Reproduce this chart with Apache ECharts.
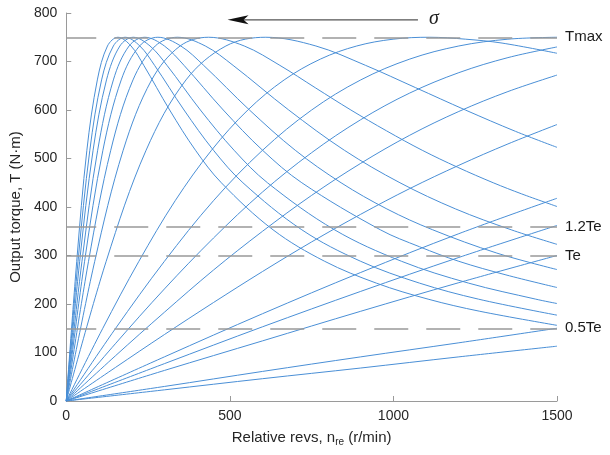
<!DOCTYPE html>
<html>
<head>
<meta charset="utf-8">
<script src="https://cdn.jsdelivr.net/npm/echarts@6/dist/echarts.min.js"></script>
<style>
  html, body { margin: 0; padding: 0; background: #fff; }
  #chart { width: 610px; height: 455px; }
</style>
</head>
<body>
<div id="chart"></div>
<script>
// Torque–speed family, one curve per leakage coefficient (σ decreasing to the right)
// Each curve: [relative revs n_re (r/min), output torque T (N·m)]
const curveS1 = [[0,0],[32,288],[63,517],[95,662],[126,732],[158,750],[198,732],[237,692],[316,600],[395,517],[474,450],[632,353],[790,288],[948,243],[1106,210],[1264,185],[1500,156]];
const curveS2 = [[0,0],[36,288],[72,517],[108,662],[144,732],[180,750],[225,732],[270,692],[360,600],[450,517],[540,450],[720,353],[900,288],[1080,243],[1260,210],[1500,177]];
const curveS3 = [[0,0],[41,288],[82,517],[123,662],[164,732],[205,750],[256,732],[308,692],[410,600],[513,517],[615,450],[820,353],[1025,288],[1230,243],[1435,210],[1500,201]];
const curveS4 = [[0,0],[48,288],[96,517],[144,662],[192,732],[240,750],[300,732],[360,692],[480,600],[600,517],[720,450],[960,353],[1080,318],[1200,288],[1344,260],[1500,234]];
const curveS5 = [[0,0],[56,288],[112,517],[168,662],[224,732],[280,750],[350,732],[420,692],[560,600],[700,517],[840,450],[980,396],[1120,353],[1316,305],[1500,271]];
const curveS6 = [[0,0],[68,288],[136,517],[204,662],[272,732],[340,750],[425,732],[510,692],[680,600],[850,517],[1020,450],[1190,396],[1360,353],[1500,323]];
const curveS7 = [[0,0],[87,288],[174,517],[261,662],[348,732],[435,750],[544,732],[653,692],[761,646],[870,600],[979,557],[1088,517],[1196,482],[1305,450],[1392,427],[1500,401]];
const curveS8 = [[0,0],[122,288],[244,517],[366,662],[488,732],[610,750],[763,732],[915,692],[1068,646],[1220,600],[1373,556],[1500,523]];
const curveS9 = [[0,0],[111,149],[222,288],[333,413],[444,517],[555,600],[666,662],[777,705],[888,732],[999,746],[1110,750],[1221,746],[1332,738],[1500,717]];
const curveS10 = [[0,0],[150,149],[300,288],[450,413],[600,517],[750,600],[900,662],[1050,705],[1200,732],[1350,746],[1500,750]];
const curveS11 = [[0,0],[150,118],[300,231],[450,336],[600,431],[750,512],[900,580],[1050,635],[1200,677],[1350,708],[1500,730]];
const curveS12 = [[0,0],[150,93],[300,183],[450,270],[600,350],[750,424],[900,490],[1050,548],[1200,597],[1350,638],[1500,672]];
const curveS13 = [[0,0],[150,69],[300,137],[450,203],[600,267],[750,328],[900,385],[1050,438],[1200,486],[1350,530],[1500,570]];
const curveS14 = [[0,0],[300,91],[600,180],[900,265],[1200,345],[1500,418]];
const curveS15 = [[0,0],[300,77],[600,153],[900,226],[1200,296],[1500,362]];
const curveS16 = [[0,0],[300,63],[600,124],[900,185],[1200,244],[1500,300]];
const curveS17 = [[0,0],[300,30],[600,61],[900,91],[1200,120],[1500,150]];
const curveS18 = [[0,0],[300,23],[600,46],[900,68],[1200,91],[1500,113]];

const curves = [curveS1, curveS2, curveS3, curveS4, curveS5, curveS6, curveS7, curveS8, curveS9,
                curveS10, curveS11, curveS12, curveS13, curveS14, curveS15, curveS16, curveS17, curveS18];

// Reference torque levels
const refLevels = [750, 360, 300, 150];
const refNames = ['Tmax', '1.2Te', 'Te', '0.5Te'];

// Axis ranges
const xRange = [0, 1500], xStep = 500;
const yRange = [0, 800], yStep = 100;

// σ arrow (data coordinates: tail -> tip)
const arrowTail = [1075, 786];
const arrowTip = [493, 786];

const FONT = '"Liberation Sans", Arial, sans-serif';
const AXIS_GRAY = '#9a9a9a';
const CURVE_BLUE = '#4a8fd6';

const series = curves.map((c) => ({
  type: 'line',
  data: c,
  showSymbol: false,
  smooth: 0.35,
  silent: true,
  lineStyle: { color: CURVE_BLUE, width: 1 },
  z: 3
}));

series.push({
  type: 'line',
  data: [],
  silent: true,
  markLine: {
    silent: true,
    symbol: ['none', 'none'],
    animation: false,
    lineStyle: { color: '#999999', width: 1.5, type: [34, 18], dashOffset: 4 },
    label: {
      show: true, position: 'end', distance: 8,
      formatter: '{b}', color: '#1a1a1a', fontSize: 15, fontFamily: FONT
    },
    emphasis: { disabled: true },
    data: refLevels.map((v, i) => ({ yAxis: v, name: refNames[i] }))
  },
  z: 2
});

const chart = echarts.init(document.getElementById('chart'), null, { renderer: 'canvas' });

chart.setOption({
  animation: false,
  backgroundColor: '#fff',
  grid: { left: 62, right: 53, top: 13, bottom: 54, containLabel: false },
  xAxis: {
    type: 'value', min: xRange[0], max: xRange[1], interval: xStep,
    name: 'Relative revs, n{sub|re} (r/min)',
    nameLocation: 'middle', nameGap: 27,
    nameTextStyle: {
      color: '#262626', fontSize: 15, fontFamily: FONT,
      rich: { sub: { fontSize: 10, fontFamily: FONT, color: '#262626', padding: [9, 0, 0, 0] } }
    },
    axisLine: { lineStyle: { color: AXIS_GRAY, width: 1 } },
    axisTick: { inside: true, length: 5, lineStyle: { color: AXIS_GRAY } },
    axisLabel: { color: '#262626', fontSize: 14, fontFamily: FONT, margin: 8, formatter: (v) => String(v) },
    splitLine: { show: false }
  },
  yAxis: {
    type: 'value', min: yRange[0], max: yRange[1], interval: yStep,
    name: 'Output torque, T (N·m)',
    nameLocation: 'middle', nameGap: 37,
    nameTextStyle: { color: '#262626', fontSize: 15, fontFamily: FONT },
    axisLine: { show: true, lineStyle: { color: AXIS_GRAY, width: 1 } },
    axisTick: { show: true, inside: true, length: 5, lineStyle: { color: AXIS_GRAY } },
    axisLabel: { color: '#262626', fontSize: 14, fontFamily: FONT, margin: 9, formatter: (v) => String(v) },
    splitLine: { show: false }
  },
  series: series
});

// σ direction arrow
const tail = chart.convertToPixel({ gridIndex: 0 }, arrowTail);
const tip = chart.convertToPixel({ gridIndex: 0 }, arrowTip);
chart.setOption({
  graphic: [
    { type: 'line', silent: true,
      shape: { x1: tail[0], y1: tail[1], x2: tip[0] + 14, y2: tip[1] },
      style: { stroke: '#555', lineWidth: 1.3 } },
    { type: 'polygon', silent: true,
      shape: { points: [[tip[0], tip[1]], [tip[0] + 21, tip[1] - 4.5], [tip[0] + 16, tip[1]], [tip[0] + 21, tip[1] + 4.5]] },
      style: { fill: '#111' } },
    { type: 'text', silent: true, x: tail[0] + 11, y: tail[1] - 1,
      style: { text: 'σ', font: 'italic 20px "Liberation Serif", "DejaVu Serif", serif', fill: '#222', verticalAlign: 'middle' } }
  ]
});
</script>
</body>
</html>
